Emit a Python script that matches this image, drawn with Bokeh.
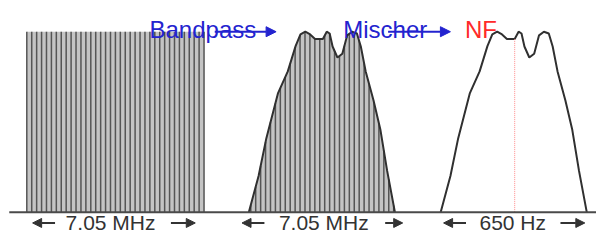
import numpy as np
from bokeh.plotting import figure
from bokeh.models import Range1d, Arrow, NormalHead
from bokeh.core.properties import value
from bokeh.embed import file_html
from bokeh.resources import INLINE

# ---- data -------------------------------------------------------------
# pass-band shape of the filter: relative frequency offset and relative level
filter_offset = [0, 10, 18, 30, 40, 48, 53, 58, 63, 68, 76, 80, 83, 86, 91,
                 96, 101, 106, 111, 115, 120, 128, 135, 142, 150]
filter_level = [0.0, 0.20, 0.41, 0.66, 0.78, 0.92, 0.985, 1.0, 0.985, 0.96,
                0.96, 1.0, 0.99, 0.918, 0.857, 0.878, 0.98, 1.0, 0.99, 0.918,
                0.78, 0.62, 0.46, 0.23, 0.0]
input_level = 1.0                       # flat broadband input spectrum
marker_offset = 76                      # centre of the audio pass band

stage_titles = ["Bandpass", "Mischer", "NF"]
span_labels = ["7.05 MHz", "7.05 MHz", "650 Hz"]

# ---- layout (positions on the drawing's frequency axis) ----------------
input_start, input_end = 27, 209
bp_start, nf_start = 255, 452
title_x = [153, 352, 477]
label_x = [113, 332, 526]
# span arrows: (left tip, left tail, right tail, right tip)
span_arrows = [(33, 56, 175, 200), (248, 271, 395, 413), (455, 478, 575, 600)]
stage_arrows = [(220, 283), (398, 462)]

GRAY_FILL = "#c4c4c4"
GRAY_LINE = "#555555"
OUTLINE = "#303030"
BLUE = "#2323cf"
RED = "#ff2a2a"
TEXT = "#333333"

p = figure(width=596, height=236, x_range=Range1d(0, 612), y_range=Range1d(-0.135, 1.173),
           output_backend="svg", toolbar_location=None, min_border=0,
           x_axis_location=None, y_axis_location=None)
p.grid.visible = False
p.outline_line_color = None
p.background_fill_color = "white"

# input spectrum block (hatched)
p.quad(left=input_start, right=input_end, bottom=0, top=input_level,
       fill_color=GRAY_FILL, line_color=None)
hx = np.linspace(input_start, input_end, 37)
p.segment(x0=hx, y0=0, x1=hx, y1=input_level, line_color=GRAY_LINE, line_width=1.5)

# bandpass output (hatched, outlined)
fo = np.array(filter_offset, dtype=float)
fl = np.array(filter_level, dtype=float)
p.patch(bp_start + fo, fl, fill_color=GRAY_FILL, line_color=None)
bx = np.arange(bp_start + 2, bp_start + 150, 5.06)
by = np.interp(bx - bp_start, fo, fl)
p.segment(x0=bx, y0=0, x1=bx, y1=by, line_color=GRAY_LINE, line_width=1.5)
p.line(bp_start + fo, fl, line_color=OUTLINE, line_width=2)

# audio (NF) output, outline only
p.line(nf_start + fo, fl, line_color=OUTLINE, line_width=2)
mx = nf_start + marker_offset
p.segment(x0=[mx], y0=[0], x1=[mx], y1=[float(np.interp(marker_offset, fo, fl))],
          line_color="#ff8c8c", line_width=1, line_dash="1 1")

# baseline
p.segment(x0=[9], y0=[0], x1=[612], y1=[0], line_color="#4a4a4a", line_width=2)

# stage titles
p.text(x=title_x, y=[1.01] * 3, text=stage_titles,
       text_color=[BLUE, BLUE, RED], text_font=value("Liberation Sans"),
       text_font_size="24px", text_baseline="alphabetic", text_align="left")
for x0, x1 in stage_arrows:
    p.add_layout(Arrow(end=NormalHead(size=10, fill_color=BLUE, line_color=BLUE),
                       x_start=x0, y_start=1.0, x_end=x1, y_end=1.0,
                       line_color=BLUE, line_width=2))

# span labels with double arrows
ly = -0.06
p.text(x=label_x, y=[ly] * 3, text=span_labels, text_color=TEXT,
       text_font=value("Liberation Sans"), text_font_size="21px",
       text_baseline="middle", text_align="center")
for ltip, ltail, rtail, rtip in span_arrows:
    p.add_layout(Arrow(end=NormalHead(size=9, fill_color=TEXT, line_color=TEXT),
                       x_start=ltail, y_start=ly, x_end=ltip, y_end=ly,
                       line_color=TEXT, line_width=2))
    p.add_layout(Arrow(end=NormalHead(size=9, fill_color=TEXT, line_color=TEXT),
                       x_start=rtail, y_start=ly, x_end=rtip, y_end=ly,
                       line_color=TEXT, line_width=2))

open("out.html", "w").write(file_html(p, INLINE))
